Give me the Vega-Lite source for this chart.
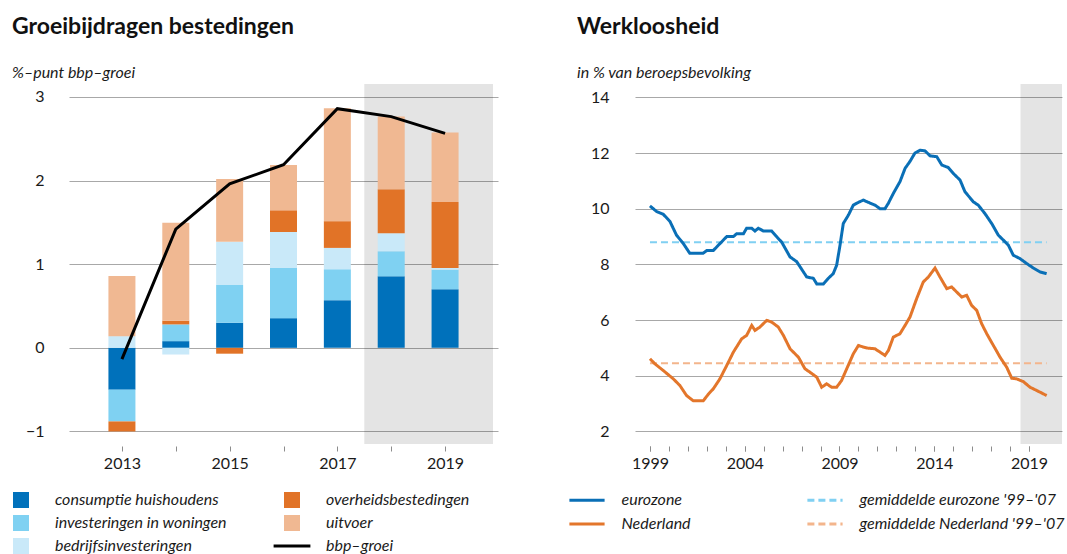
{
  "$schema": "https://vega.github.io/schema/vega-lite/v6.json",
  "background": "white",
  "padding": {"left": 12, "top": 16, "right": 0, "bottom": 5},
  "bounds": "flush",
  "spacing": 137,
  "datasets": {
    "bars": [
      {"year": 2013, "comp": "consumptie huishoudens", "v": -0.5},
      {"year": 2013, "comp": "investeringen in woningen", "v": -0.38},
      {"year": 2013, "comp": "bedrijfsinvesteringen", "v": 0.14},
      {"year": 2013, "comp": "overheidsbestedingen", "v": -0.12},
      {"year": 2013, "comp": "uitvoer", "v": 0.72},
      {"year": 2014, "comp": "consumptie huishoudens", "v": 0.08},
      {"year": 2014, "comp": "investeringen in woningen", "v": 0.2},
      {"year": 2014, "comp": "bedrijfsinvesteringen", "v": -0.08},
      {"year": 2014, "comp": "overheidsbestedingen", "v": 0.045},
      {"year": 2014, "comp": "uitvoer", "v": 1.17},
      {"year": 2015, "comp": "consumptie huishoudens", "v": 0.3},
      {"year": 2015, "comp": "investeringen in woningen", "v": 0.45},
      {"year": 2015, "comp": "bedrijfsinvesteringen", "v": 0.52},
      {"year": 2015, "comp": "overheidsbestedingen", "v": -0.07},
      {"year": 2015, "comp": "uitvoer", "v": 0.75},
      {"year": 2016, "comp": "consumptie huishoudens", "v": 0.355},
      {"year": 2016, "comp": "investeringen in woningen", "v": 0.6},
      {"year": 2016, "comp": "bedrijfsinvesteringen", "v": 0.43},
      {"year": 2016, "comp": "overheidsbestedingen", "v": 0.26},
      {"year": 2016, "comp": "uitvoer", "v": 0.54},
      {"year": 2017, "comp": "consumptie huishoudens", "v": 0.57},
      {"year": 2017, "comp": "investeringen in woningen", "v": 0.37},
      {"year": 2017, "comp": "bedrijfsinvesteringen", "v": 0.255},
      {"year": 2017, "comp": "overheidsbestedingen", "v": 0.32},
      {"year": 2017, "comp": "uitvoer", "v": 1.35},
      {"year": 2018, "comp": "consumptie huishoudens", "v": 0.855},
      {"year": 2018, "comp": "investeringen in woningen", "v": 0.3},
      {"year": 2018, "comp": "bedrijfsinvesteringen", "v": 0.215},
      {"year": 2018, "comp": "overheidsbestedingen", "v": 0.525},
      {"year": 2018, "comp": "uitvoer", "v": 0.87},
      {"year": 2019, "comp": "consumptie huishoudens", "v": 0.7},
      {"year": 2019, "comp": "investeringen in woningen", "v": 0.235},
      {"year": 2019, "comp": "bedrijfsinvesteringen", "v": 0.02},
      {"year": 2019, "comp": "overheidsbestedingen", "v": 0.79},
      {"year": 2019, "comp": "uitvoer", "v": 0.83}
    ],
    "gdp": [
      {"year": 2013, "v": -0.135},
      {"year": 2014, "v": 1.42},
      {"year": 2015, "v": 1.96},
      {"year": 2016, "v": 2.19},
      {"year": 2017, "v": 2.86},
      {"year": 2018, "v": 2.765},
      {"year": 2019, "v": 2.565}
    ],
    "shadeL": [{"from": 2017.5, "to": 2019.89}],
    "shadeR": [{"from": 2018.55, "to": 2020.74}],
    "avg": [
      {"series": "gemiddelde eurozone '99–'07", "year": 1999.0, "v": 8.8},
      {"series": "gemiddelde eurozone '99–'07", "year": 2019.93, "v": 8.8},
      {"series": "gemiddelde Nederland '99–'07", "year": 1999.0, "v": 4.45},
      {"series": "gemiddelde Nederland '99–'07", "year": 2019.93, "v": 4.45}
    ],
    "unemp": [
      {"series": "eurozone", "year": 1999.0, "v": 10.1},
      {"series": "eurozone", "year": 1999.35, "v": 9.9},
      {"series": "eurozone", "year": 1999.7, "v": 9.8},
      {"series": "eurozone", "year": 2000.05, "v": 9.55},
      {"series": "eurozone", "year": 2000.4, "v": 9.05},
      {"series": "eurozone", "year": 2000.76, "v": 8.75},
      {"series": "eurozone", "year": 2001.1, "v": 8.4},
      {"series": "eurozone", "year": 2001.8, "v": 8.4},
      {"series": "eurozone", "year": 2002.0, "v": 8.5},
      {"series": "eurozone", "year": 2002.34, "v": 8.5},
      {"series": "eurozone", "year": 2003.05, "v": 9.0},
      {"series": "eurozone", "year": 2003.4, "v": 9.0},
      {"series": "eurozone", "year": 2003.57, "v": 9.1},
      {"series": "eurozone", "year": 2003.93, "v": 9.1},
      {"series": "eurozone", "year": 2004.1, "v": 9.3},
      {"series": "eurozone", "year": 2004.37, "v": 9.3},
      {"series": "eurozone", "year": 2004.54, "v": 9.2},
      {"series": "eurozone", "year": 2004.72, "v": 9.3},
      {"series": "eurozone", "year": 2004.98, "v": 9.2},
      {"series": "eurozone", "year": 2005.42, "v": 9.2},
      {"series": "eurozone", "year": 2005.68, "v": 9.0},
      {"series": "eurozone", "year": 2005.95, "v": 8.8},
      {"series": "eurozone", "year": 2006.39, "v": 8.27},
      {"series": "eurozone", "year": 2006.74, "v": 8.1},
      {"series": "eurozone", "year": 2007.27, "v": 7.55},
      {"series": "eurozone", "year": 2007.62, "v": 7.5},
      {"series": "eurozone", "year": 2007.8, "v": 7.3},
      {"series": "eurozone", "year": 2008.15, "v": 7.3},
      {"series": "eurozone", "year": 2008.41, "v": 7.5},
      {"series": "eurozone", "year": 2008.67, "v": 7.67},
      {"series": "eurozone", "year": 2008.85, "v": 7.97},
      {"series": "eurozone", "year": 2009.03, "v": 8.7},
      {"series": "eurozone", "year": 2009.2, "v": 9.47},
      {"series": "eurozone", "year": 2009.47, "v": 9.77},
      {"series": "eurozone", "year": 2009.73, "v": 10.13},
      {"series": "eurozone", "year": 2010.0, "v": 10.23},
      {"series": "eurozone", "year": 2010.26, "v": 10.31},
      {"series": "eurozone", "year": 2010.52, "v": 10.23},
      {"series": "eurozone", "year": 2010.87, "v": 10.13},
      {"series": "eurozone", "year": 2011.14, "v": 10.0},
      {"series": "eurozone", "year": 2011.4, "v": 10.0},
      {"series": "eurozone", "year": 2011.58, "v": 10.2},
      {"series": "eurozone", "year": 2011.84, "v": 10.55},
      {"series": "eurozone", "year": 2012.19, "v": 10.97},
      {"series": "eurozone", "year": 2012.46, "v": 11.45},
      {"series": "eurozone", "year": 2012.72, "v": 11.7},
      {"series": "eurozone", "year": 2012.98, "v": 12.0},
      {"series": "eurozone", "year": 2013.25, "v": 12.1},
      {"series": "eurozone", "year": 2013.51, "v": 12.08},
      {"series": "eurozone", "year": 2013.78, "v": 11.9},
      {"series": "eurozone", "year": 2014.13, "v": 11.87},
      {"series": "eurozone", "year": 2014.4, "v": 11.57},
      {"series": "eurozone", "year": 2014.74, "v": 11.48},
      {"series": "eurozone", "year": 2015.0, "v": 11.27},
      {"series": "eurozone", "year": 2015.36, "v": 11.03},
      {"series": "eurozone", "year": 2015.62, "v": 10.61},
      {"series": "eurozone", "year": 2016.06, "v": 10.25},
      {"series": "eurozone", "year": 2016.32, "v": 10.13},
      {"series": "eurozone", "year": 2016.67, "v": 9.83},
      {"series": "eurozone", "year": 2017.03, "v": 9.47},
      {"series": "eurozone", "year": 2017.38, "v": 9.05},
      {"series": "eurozone", "year": 2017.65, "v": 8.87},
      {"series": "eurozone", "year": 2017.91, "v": 8.69},
      {"series": "eurozone", "year": 2018.17, "v": 8.33},
      {"series": "eurozone", "year": 2018.52, "v": 8.21},
      {"series": "eurozone", "year": 2018.88, "v": 8.03},
      {"series": "eurozone", "year": 2019.23, "v": 7.87},
      {"series": "eurozone", "year": 2019.58, "v": 7.73},
      {"series": "eurozone", "year": 2019.93, "v": 7.67},
      {"series": "Nederland", "year": 1999.0, "v": 4.61},
      {"series": "Nederland", "year": 1999.26, "v": 4.43},
      {"series": "Nederland", "year": 1999.7, "v": 4.19},
      {"series": "Nederland", "year": 2000.23, "v": 3.89},
      {"series": "Nederland", "year": 2000.58, "v": 3.65},
      {"series": "Nederland", "year": 2000.93, "v": 3.29},
      {"series": "Nederland", "year": 2001.29, "v": 3.1},
      {"series": "Nederland", "year": 2001.81, "v": 3.1},
      {"series": "Nederland", "year": 2002.08, "v": 3.34},
      {"series": "Nederland", "year": 2002.34, "v": 3.53},
      {"series": "Nederland", "year": 2002.69, "v": 3.89},
      {"series": "Nederland", "year": 2003.05, "v": 4.37},
      {"series": "Nederland", "year": 2003.4, "v": 4.85},
      {"series": "Nederland", "year": 2003.84, "v": 5.33},
      {"series": "Nederland", "year": 2004.1, "v": 5.45},
      {"series": "Nederland", "year": 2004.37, "v": 5.81},
      {"series": "Nederland", "year": 2004.54, "v": 5.63},
      {"series": "Nederland", "year": 2004.8, "v": 5.75},
      {"series": "Nederland", "year": 2005.16, "v": 5.99},
      {"series": "Nederland", "year": 2005.42, "v": 5.93},
      {"series": "Nederland", "year": 2005.77, "v": 5.75},
      {"series": "Nederland", "year": 2006.04, "v": 5.45},
      {"series": "Nederland", "year": 2006.39, "v": 4.97},
      {"series": "Nederland", "year": 2006.83, "v": 4.67},
      {"series": "Nederland", "year": 2007.18, "v": 4.25},
      {"series": "Nederland", "year": 2007.44, "v": 4.13},
      {"series": "Nederland", "year": 2007.8, "v": 3.95},
      {"series": "Nederland", "year": 2008.06, "v": 3.59},
      {"series": "Nederland", "year": 2008.32, "v": 3.71},
      {"series": "Nederland", "year": 2008.59, "v": 3.59},
      {"series": "Nederland", "year": 2008.85, "v": 3.59},
      {"series": "Nederland", "year": 2009.11, "v": 3.83},
      {"series": "Nederland", "year": 2009.38, "v": 4.25},
      {"series": "Nederland", "year": 2009.73, "v": 4.79},
      {"series": "Nederland", "year": 2010.0, "v": 5.09},
      {"series": "Nederland", "year": 2010.26, "v": 5.03},
      {"series": "Nederland", "year": 2010.52, "v": 4.99},
      {"series": "Nederland", "year": 2010.87, "v": 4.97},
      {"series": "Nederland", "year": 2011.14, "v": 4.85},
      {"series": "Nederland", "year": 2011.4, "v": 4.73},
      {"series": "Nederland", "year": 2011.58, "v": 4.91},
      {"series": "Nederland", "year": 2011.84, "v": 5.39},
      {"series": "Nederland", "year": 2012.19, "v": 5.51},
      {"series": "Nederland", "year": 2012.46, "v": 5.81},
      {"series": "Nederland", "year": 2012.72, "v": 6.11},
      {"series": "Nederland", "year": 2013.07, "v": 6.77},
      {"series": "Nederland", "year": 2013.42, "v": 7.37},
      {"series": "Nederland", "year": 2013.69, "v": 7.55},
      {"series": "Nederland", "year": 2014.04, "v": 7.87},
      {"series": "Nederland", "year": 2014.3, "v": 7.55},
      {"series": "Nederland", "year": 2014.66, "v": 7.13},
      {"series": "Nederland", "year": 2014.92, "v": 7.19},
      {"series": "Nederland", "year": 2015.18, "v": 7.01},
      {"series": "Nederland", "year": 2015.45, "v": 6.83},
      {"series": "Nederland", "year": 2015.71, "v": 6.89},
      {"series": "Nederland", "year": 2015.97, "v": 6.53},
      {"series": "Nederland", "year": 2016.24, "v": 6.35},
      {"series": "Nederland", "year": 2016.5, "v": 5.87},
      {"series": "Nederland", "year": 2016.77, "v": 5.51},
      {"series": "Nederland", "year": 2017.12, "v": 5.09},
      {"series": "Nederland", "year": 2017.47, "v": 4.67},
      {"series": "Nederland", "year": 2017.82, "v": 4.31},
      {"series": "Nederland", "year": 2018.09, "v": 3.91},
      {"series": "Nederland", "year": 2018.35, "v": 3.89},
      {"series": "Nederland", "year": 2018.7, "v": 3.79},
      {"series": "Nederland", "year": 2019.05, "v": 3.59},
      {"series": "Nederland", "year": 2019.41, "v": 3.47},
      {"series": "Nederland", "year": 2019.93, "v": 3.29}
    ]
  },
  "hconcat": [
    {
      "width": 429,
      "height": 360,
      "title": {"text": "Groeibijdragen bestedingen", "subtitle": "%–punt bbp–groei", "dx": -57},
      "layer": [
        {
          "data": {"name": "shadeL"},
          "mark": {"type": "rect", "color": "black", "opacity": 0.105},
          "encoding": {
            "x": {"field": "from", "type": "quantitative",
                  "scale": {"domain": [2012.11, 2019.89], "nice": false, "zero": false},
                  "axis": {"values": [2013, 2014, 2015, 2016, 2017, 2018, 2019], "format": "d",
                           "labelExpr": "datum.value % 2 === 1 ? datum.label : ''",
                           "title": null, "grid": false, "domain": false, "ticks": true,
                           "tickColor": "#8c8c8c", "tickSize": 5, "offset": 2, "labelPadding": 4}},
            "x2": {"field": "to"}
          }
        },
        {
          "data": {"name": "bars"},
          "transform": [{"calculate": "indexof(['consumptie huishoudens','investeringen in woningen','bedrijfsinvesteringen','overheidsbestedingen','uitvoer'], datum.comp)", "as": "ord"}],
          "mark": {"type": "bar", "size": 27},
          "encoding": {
            "x": {"field": "year", "type": "quantitative"},
            "y": {"field": "v", "type": "quantitative", "stack": "zero",
                  "scale": {"domain": [-1.15, 3.155], "nice": false, "zero": false},
                  "axis": {"values": [-1, 0, 1, 2, 3], "format": "d", "title": null, "grid": true, "domain": false,
                           "ticks": false, "labelPadding": 25}},
            "order": {"field": "ord", "type": "quantitative"},
            "color": {
              "field": "comp", "type": "nominal",
              "scale": {
                "domain": ["consumptie huishoudens", "investeringen in woningen", "bedrijfsinvesteringen", "overheidsbestedingen", "uitvoer", "bbp–groei"],
                "range": ["#0071bb", "#7fd1f2", "#c9e9f9", "#e17327", "#f0b892", "#000000"]
              },
              "legend": {
                "orient": "none", "legendX": -57, "legendY": 407, "columns": 2, "title": null,
                "symbolType": "square", "symbolSize": 256, "labelOffset": 25, "columnPadding": 46,
                "rowPadding": 6, "padding": 0, "labelLimit": 400,
                "encode": {"symbols": {"update": {"shape": [
                  {"test": "datum.value === 'bbp–groei'", "value": "M-2.3,-0.19H2.3V0.19H-2.3Z"},
                  {"value": "square"}
                ]}}}
              }
            }
          }
        },
        {
          "data": {"name": "gdp"},
          "mark": {"type": "line", "color": "black", "strokeWidth": 3},
          "encoding": {
            "x": {"field": "year", "type": "quantitative"},
            "y": {"field": "v", "type": "quantitative"}
          }
        },
        {
          "mark": {"type": "rule", "color": "black", "strokeWidth": 2},
          "encoding": {"y": {"datum": 0}}
        }
      ]
    },
    {
      "width": 427,
      "height": 360,
      "title": {"text": "Werkloosheid", "subtitle": "in % van beroepsbevolking", "dx": -58},
      "resolve": {"axis": {"x": "independent"}},
      "layer": [
        {
          "data": {"name": "shadeR"},
          "mark": {"type": "rect", "color": "black", "opacity": 0.105},
          "encoding": {
            "x": {"field": "from", "type": "quantitative",
                  "scale": {"domain": [1998.21, 2020.74], "nice": false, "zero": false},
                  "axis": {"orient": "bottom", "values": [1999, 2000, 2001, 2002, 2003, 2004, 2005, 2006, 2007, 2008, 2009, 2010, 2011, 2012, 2013, 2014, 2015, 2016, 2017, 2018, 2019],
                           "labels": false, "title": null, "grid": false, "domain": false, "ticks": true,
                           "tickColor": "#8c8c8c", "tickSize": 5, "offset": 2}},
            "x2": {"field": "to"}
          }
        },
        {
          "data": {"name": "avg"},
          "mark": {"type": "line", "strokeWidth": 2},
          "encoding": {
            "x": {"field": "year", "type": "quantitative",
                  "axis": {"orient": "bottom", "values": [1999, 2004, 2009, 2014, 2019], "format": "d",
                           "title": null, "grid": false, "domain": false, "ticks": true,
                           "tickColor": "#8c8c8c", "tickSize": 5, "offset": 2, "labelPadding": 4}},
            "y": {"field": "v", "type": "quantitative",
                  "scale": {"domain": [1.55, 14.48], "nice": false, "zero": false},
                  "axis": {"values": [2, 4, 6, 8, 10, 12, 14], "title": null, "grid": true, "domain": false,
                           "ticks": false, "labelPadding": 26}},
            "color": {
              "field": "series", "type": "nominal",
              "scale": {
                "domain": ["eurozone", "Nederland", "gemiddelde eurozone '99–'07", "gemiddelde Nederland '99–'07"],
                "range": ["#0a6fb6", "#e3762b", "#80d0f2", "#f3b58c"]
              },
              "legend": {
                "orient": "none", "legendX": -57.5, "legendY": 406.5, "columns": 2, "title": null,
                "symbolType": "M-2.2,0H2.2", "symbolSize": 256, "symbolStrokeWidth": 3,
                "labelOffset": 25, "columnPadding": 109, "rowPadding": 6, "padding": 0, "labelLimit": 400
              }
            },
            "strokeDash": {
              "field": "series", "type": "nominal",
              "scale": {
                "domain": ["eurozone", "Nederland", "gemiddelde eurozone '99–'07", "gemiddelde Nederland '99–'07"],
                "range": [[1, 0], [1, 0], [7, 4], [7, 4]]
              }
            }
          }
        },
        {
          "data": {"name": "unemp"},
          "mark": {"type": "line", "strokeWidth": 3},
          "encoding": {
            "x": {"field": "year", "type": "quantitative", "axis": null},
            "y": {"field": "v", "type": "quantitative"},
            "color": {"field": "series", "type": "nominal"},
            "strokeDash": {"field": "series", "type": "nominal"}
          }
        }
      ]
    }
  ],
  "resolve": {
    "scale": {"color": "independent", "strokeDash": "independent"},
    "legend": {"color": "independent", "strokeDash": "independent"}
  },
  "config": {
    "font": "Lato",
    "view": {"stroke": null},
    "axis": {
      "labelFont": "Lato", "labelFontSize": 16, "labelColor": "#1a1a1a",
      "gridColor": "#a8a8a8", "gridWidth": 1.2
    },
    "legend": {
      "labelFont": "Lato", "labelFontSize": 16, "labelFontStyle": "italic", "labelColor": "#1a1a1a"
    },
    "title": {
      "font": "Lato", "fontSize": 23, "fontWeight": "bold", "color": "#111111",
      "anchor": "start", "frame": "group", "offset": 3,
      "subtitleFont": "Lato", "subtitleFontSize": 16, "subtitleFontStyle": "italic",
      "subtitleColor": "#1a1a1a", "subtitlePadding": 26
    }
  }
}
